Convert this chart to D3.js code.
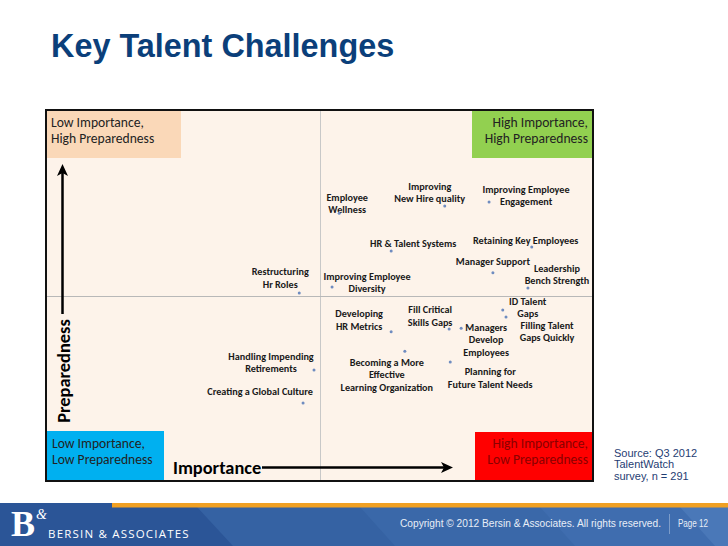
<!DOCTYPE html>
<html>
<head>
<meta charset="utf-8">
<script src="https://cdn.jsdelivr.net/npm/d3@7"></script>
<style>
  html, body { margin: 0; padding: 0; background: #ffffff; }
  svg { display: block; }
</style>
</head>
<body>
<svg id="chart" width="728" height="546"></svg>
<script>
// ---------------- DATA ----------------
const title = "Key Talent Challenges";
const challenges = [
  "Restructuring Hr Roles",
  "Employee Wellness",
  "Improving New Hire quality",
  "Improving Employee Engagement",
  "HR & Talent Systems",
  "Retaining Key Employees",
  "Manager Support",
  "Leadership Bench Strength",
  "Improving Employee Diversity",
  "Handling Impending Retirements",
  "Creating a Global Culture",
  "Developing HR Metrics",
  "Fill Critical Skills Gaps",
  "Managers Develop Employees",
  "ID Talent Gaps",
  "Filling Talent Gaps Quickly",
  "Becoming a More Effective Learning Organization",
  "Planning for Future Talent Needs"
];
// Importance (x) and Preparedness (y), 0-100 scale, 50 = quadrant split
const importance   = [46.3, 53.6, 72.9, 81.0, 63.1, 88.8, 81.7, 88.1, 52.3, 49.0, 47.0, 63.1, 73.7, 75.9, 83.5, 84.1, 65.6, 73.9];
const preparedness = [50.7, 72.2, 74.1, 75.2, 62.0, 63.1, 56.1, 52.0, 52.3, 29.9, 21.0, 40.2, 41.0, 41.2, 46.1, 44.2, 35.0, 32.1];
const labelLines = [
  ["Restructuring", "Hr Roles"],
  ["Employee", "Wellness"],
  ["Improving", "New Hire quality"],
  ["Improving Employee", "Engagement"],
  ["HR & Talent Systems"],
  ["Retaining Key Employees"],
  ["Manager Support"],
  ["Leadership", "Bench Strength"],
  ["Improving Employee", "Diversity"],
  ["Handling Impending", "Retirements"],
  ["Creating a Global Culture"],
  ["Developing", "HR Metrics"],
  ["Fill Critical", "Skills Gaps"],
  ["Managers", "Develop", "Employees"],
  ["ID Talent", "Gaps"],
  ["Filling Talent", "Gaps  Quickly"],
  ["Becoming a More", "Effective", "Learning Organization"],
  ["Planning for", "Future Talent Needs"]
];
const quadrantLabels = [
  ["Low Importance,", "High Preparedness"],
  ["High Importance,", "High Preparedness"],
  ["Low Importance,", "Low Preparedness"],
  ["High Importance,", "Low Preparedness"]
];
const axisTitles = ["Importance", "Preparedness"];
const domainX = [0, 100];
const domainY = [0, 100];
const splitValue = 50;
const sourceLines = ["Source:  Q3 2012", "TalentWatch", "survey, n = 291"];
const footerText = "Copyright \u00A9 2012 Bersin & Associates. All rights reserved.";
const pageText = "Page 12";
const brandText = "BERSIN & ASSOCIATES";

// ---------------- LAYOUT (label offsets from point, px) ----------------
const labelOffsets = [
  [-19, -21], [8, -16], [-15, -20], [37, -13], [22, -8], [-6, -6], [0, -11], [29, -20],
  [35, -11], [-43, -14], [-43, -12], [-32, -18], [-19, -19], [25, -1], [25, -9], [41, 8],
  [-18, 11], [40, 10]
];

// ---------------- DRAW ----------------
const svg = d3.select("#chart");
const W = 728, H = 546;
const box = { left: 46, top: 110, right: 593, bottom: 481 };

const x = d3.scaleLinear().domain(domainX).range([box.left, box.right]);
const y = d3.scaleLinear().domain(domainY).range([box.bottom, box.top]);

// title
svg.append("text")
  .attr("x", 51).attr("y", 57)
  .attr("font-family", "'Liberation Sans', Arial, sans-serif")
  .attr("font-weight", "bold").attr("font-size", 32.4)
  .attr("fill", "#0b3f7a")
  .text(title);

// chart background
svg.append("rect")
  .attr("x", box.left).attr("y", box.top)
  .attr("width", box.right - box.left).attr("height", box.bottom - box.top)
  .attr("fill", "#fdf3ea");

// quadrant colour boxes
const qboxes = [
  { x0: 46, x1: 181, y0: 110, y1: 158, fill: "#fad8b8" },
  { x0: 472, x1: 593, y0: 110, y1: 158, fill: "#92d050" },
  { x0: 46, x1: 164, y0: 431, y1: 481, fill: "#00b0f0" },
  { x0: 475, x1: 593, y0: 432, y1: 481, fill: "#ff0000" }
];
svg.selectAll("rect.q").data(qboxes).enter().append("rect")
  .attr("class", "q")
  .attr("x", d => d.x0).attr("y", d => d.y0)
  .attr("width", d => d.x1 - d.x0).attr("height", d => d.y1 - d.y0)
  .attr("fill", d => d.fill);

// split lines via scales
svg.append("line")
  .attr("x1", Math.round(x(splitValue)) + 0.5).attr("x2", Math.round(x(splitValue)) + 0.5)
  .attr("y1", box.top).attr("y2", box.bottom)
  .attr("stroke", "#c8c8c8").attr("stroke-width", 1);
svg.append("line")
  .attr("x1", box.left).attr("x2", box.right)
  .attr("y1", Math.round(y(splitValue)) + 0.5).attr("y2", Math.round(y(splitValue)) + 0.5)
  .attr("stroke", "#b8b8b8").attr("stroke-width", 1);

// quadrant texts
const qFont = "Carlito, Lato, 'Open Sans', sans-serif";
const qPos = [
  { x: 51, anchor: "start", ys: [122.5, 138.5], fill: "#222" },
  { x: 588, anchor: "end", ys: [122.5, 138.5], fill: "#222" },
  { x: 52, anchor: "start", ys: [443, 459], fill: "#222" },
  { x: 588, anchor: "end", ys: [443, 459], fill: "#8a0000" }
];
quadrantLabels.forEach((lines, i) => {
  const p = qPos[i];
  lines.forEach((t, j) => {
    svg.append("text")
      .attr("x", p.x).attr("y", p.ys[j])
      .attr("dy", "0.35em")
      .attr("text-anchor", p.anchor)
      .attr("font-family", qFont).attr("font-size", 13.6)
      .attr("fill", p.fill)
      .text(t);
  });
});

// chart border
svg.append("rect")
  .attr("x", box.left).attr("y", box.top)
  .attr("width", box.right - box.left).attr("height", box.bottom - box.top)
  .attr("fill", "none").attr("stroke", "#111").attr("stroke-width", 2);

// axis arrows
const arrowColor = "#000";
// vertical (Preparedness)
svg.append("line").attr("x1", 62.5).attr("x2", 62.5).attr("y1", 172).attr("y2", 314)
  .attr("stroke", arrowColor).attr("stroke-width", 2.5);
svg.append("path")
  .attr("d", "M62.5,164 L68,176 L62.5,173 L57,176 Z")
  .attr("fill", arrowColor);
svg.append("text")
  .attr("transform", "translate(64,371) rotate(-90)")
  .attr("text-anchor", "middle").attr("dy", "0.35em")
  .attr("font-family", qFont).attr("font-weight", "bold").attr("font-size", 18.4)
  .attr("fill", "#000")
  .text(axisTitles[1]);
// horizontal (Importance)
svg.append("text")
  .attr("x", 173).attr("y", 467.5).attr("dy", "0.35em")
  .attr("font-family", qFont).attr("font-weight", "bold").attr("font-size", 18.4)
  .attr("fill", "#000")
  .text(axisTitles[0]);
svg.append("line").attr("x1", 262).attr("x2", 446).attr("y1", 467.5).attr("y2", 467.5)
  .attr("stroke", arrowColor).attr("stroke-width", 2.5);
svg.append("path")
  .attr("d", "M453,467.5 L441,462 L444,467.5 L441,473 Z")
  .attr("fill", arrowColor);

// data points
const pts = challenges.map((name, i) => ({
  name, imp: importance[i], prep: preparedness[i], lines: labelLines[i], off: labelOffsets[i]
}));

const lblFont = "Carlito, Lato, 'Open Sans', sans-serif";
const g = svg.append("g");
pts.forEach(d => {
  const cx = x(d.imp), cy = y(d.prep);
  const t = g.append("text")
    .attr("text-anchor", "middle")
    .attr("font-family", lblFont).attr("font-weight", "bold").attr("font-size", 10.2)
    .attr("fill", "#1a1a1a");
  d.lines.forEach((line, j) => {
    t.append("tspan")
      .attr("x", cx + d.off[0])
      .attr("y", cy + d.off[1] + j * 12.5)
      .attr("dy", "0.35em")
      .text(line);
  });
});
g.selectAll("circle.pt").data(pts).enter().append("circle")
  .attr("class", "pt")
  .attr("cx", d => x(d.imp)).attr("cy", d => y(d.prep))
  .attr("r", 1.5)
  .attr("fill", "#6f8cc0");

// source note
sourceLines.forEach((t, j) => {
  svg.append("text")
    .attr("x", 614).attr("y", 453 + j * 11.5).attr("dy", "0.35em")
    .attr("font-family", "'Liberation Sans', Arial, sans-serif").attr("font-size", 11)
    .attr("fill", "#1f3d73")
    .text(t);
});

// ---------------- FOOTER ----------------
const footer = svg.append("g");
footer.append("rect").attr("x", 0).attr("y", 503).attr("width", W).attr("height", H - 503)
  .attr("fill", "#2b5597");
footer.append("path").attr("d", "M197,507 L728,507 L728,546 L233,546 Z").attr("fill", "#3562a3");
footer.append("path").attr("d", "M360,507 L728,507 L728,546 L395,546 Z").attr("fill", "#3a68a9");
footer.append("path").attr("d", "M540,507 L728,507 L728,546 L575,546 Z").attr("fill", "#3f6daf");
footer.append("path").attr("d", "M680,507 L728,507 L728,546 L715,546 Z").attr("fill", "#4a78b8");
footer.append("rect").attr("x", 112).attr("y", 503).attr("width", W - 112).attr("height", 4.5)
  .attr("fill", "#f0a023");
// logo
footer.append("text").attr("x", 11).attr("y", 536)
  .attr("font-family", "'Liberation Serif', 'DejaVu Serif', serif").attr("font-weight", "bold")
  .attr("font-size", 36).attr("fill", "#ffffff").text("B");
footer.append("text").attr("x", 36).attr("y", 519)
  .attr("font-family", "'Liberation Serif', 'DejaVu Serif', serif").attr("font-style", "italic")
  .attr("font-size", 14).attr("fill", "#ffffff").text("&");
footer.append("text").attr("x", 48).attr("y", 538)
  .attr("font-family", "'Open Sans', 'Noto Sans', sans-serif")
  .attr("font-size", 11.5).attr("letter-spacing", 1.2).attr("fill", "#ffffff")
  .text(brandText);
footer.append("text").attr("x", 400).attr("y", 527)
  .attr("font-family", "'Liberation Sans', Arial, sans-serif").attr("font-size", 10)
  .attr("textLength", 261).attr("lengthAdjust", "spacingAndGlyphs")
  .attr("fill", "#e8eef7").text(footerText);
footer.append("line").attr("x1", 669.5).attr("x2", 669.5).attr("y1", 514).attr("y2", 534)
  .attr("stroke", "#7c9cc9").attr("stroke-width", 1);
footer.append("text").attr("x", 678).attr("y", 527)
  .attr("font-family", "'Liberation Sans', Arial, sans-serif").attr("font-size", 10)
  .attr("textLength", 30).attr("lengthAdjust", "spacingAndGlyphs")
  .attr("fill", "#e8eef7").text(pageText);
</script>
</body>
</html>
